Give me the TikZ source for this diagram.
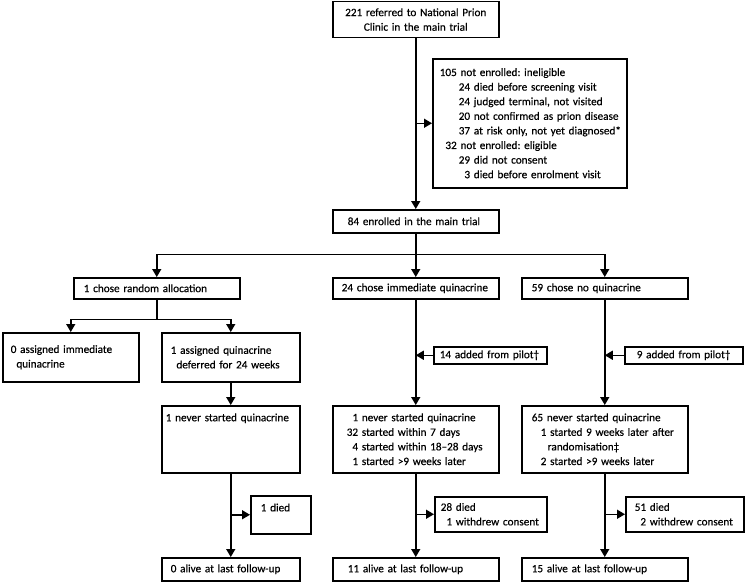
\documentclass[tikz,border=0pt]{standalone}
\usepackage{fontspec}
\setmainfont{Carlito}[FakeBold=0.4]
\usetikzlibrary{arrows.meta}
\frenchspacing
\hyphenpenalty=10000
\newcommand{\indt}{\hspace*{19pt}}

\begin{document}
\begin{tikzpicture} [x = 1pt, y = -1pt,
  box/.style = {draw, line width = 1.5pt, anchor = north west, align = left, inner ysep = 0pt, font = \fontsize{11.2}{14.6}\selectfont},
  arr/.style = {line width = 1.5pt, -{Triangle[length = 8pt, width = 9pt]}}]
\useasboundingbox (0,0) rectangle (746,581);
\node[box, align = center, text width = 150pt, inner xsep = 8pt, minimum height = 36pt] (r0) at (332,0.8) {221 referred to National Prion\\Clinic in the main trial};
\node[box, text width = 180pt, inner xsep = 7pt, minimum height = 129pt] (x0) at (432,58) {105 not enrolled: ineligible\\
\indt24 died before screening visit\\
\indt24 judged terminal, not visited\\
\indt20 not confirmed as prion disease\\
\indt\mbox{37 at risk only, not yet diagnosed*}\\
\hphantom{0}32 not enrolled: eligible\\
\indt29 did not consent\\
\indt\hphantom{0}3 died before enrolment visit};
\node[box, text width = 136pt, inner xsep = 15pt, minimum height = 23pt] (e0) at (332,209) {84 enrolled in the main trial};
\node[box, text width = 146pt, inner xsep = 10pt, minimum height = 21pt] (c1) at (73,277) {1 chose random allocation};
\node[box, text width = 148pt, inner xsep = 9pt, minimum height = 21pt] (c2) at (332,277) {24 chose immediate quinacrine};
\node[box, text width = 146pt, inner xsep = 10pt, minimum height = 21pt] (c3) at (521,277) {59 chose no quinacrine};
\node[box, text width = 120pt, inner xsep = 8pt, minimum height = 49pt] (a1) at (2,332) {0 assigned immediate\\\hphantom{0}quinacrine};
\node[box, text width = 120pt, inner xsep = 9pt, minimum height = 49pt] (a2) at (161,332) {1 assigned quinacrine\\\hphantom{0}deferred for 24 weeks};
\node[box, text width = 101pt, inner xsep = 6pt, minimum height = 17pt] (p1) at (433,346) {14 added from pilot\textdagger};
\node[box, text width = 94pt, inner xsep = 12pt, minimum height = 17pt] (p2) at (624,346) {9 added from pilot\textdagger};
\node[box, text width = 130pt, inner xsep = 4pt, minimum height = 67pt] (n1) at (161,405) {1 never started quinacrine\\\mbox{}\\\mbox{}\\\mbox{}};
\node[box, text width = 138pt, inner xsep = 14pt, minimum height = 67pt] (n2) at (332,405) {\hphantom{0}1 never started quinacrine\\
32 started within 7 days\\
\hphantom{0}4 started within 18--28 days\\
\hphantom{0}1 started >9 weeks later};
\node[box, text width = 146pt, inner xsep = 10pt, minimum height = 67pt] (n3) at (521,405) {65 never started quinacrine\\
\hspace*{9pt}1 started 9 weeks later after\\
\hspace*{16pt}randomisation\textdaggerdbl\\
\hspace*{9pt}2 started >9 weeks later};
\node[box, text width = 40pt, inner xsep = 10pt, minimum height = 38pt] (d1) at (250,495) {1 died\\\mbox{}};
\node[box, text width = 100pt, inner xsep = 6pt, minimum height = 35pt] (d2) at (434,496) {28 died\\\hphantom{0}1 withdrew consent};
\node[box, text width = 100pt, inner xsep = 9pt, minimum height = 35pt] (d3) at (625,496) {51 died\\\hphantom{0}2 withdrew consent};
\node[box, text width = 120pt, inner xsep = 9pt, minimum height = 23pt] (f1) at (161,557) {0 alive at last follow-up};
\node[box, text width = 136pt, inner xsep = 15pt, minimum height = 23pt] (f2) at (332,557) {11 alive at last follow-up};
\node[box, text width = 146pt, inner xsep = 10pt, minimum height = 23pt] (f3) at (521,557) {15 alive at last follow-up};
\draw[arr] (r0) -- (e0);
\draw[arr] (r0.south |- x0.west) -- (x0);
\draw[line width = 1.5pt] (e0.south) -- ++(0,21) coordinate (s0);
\draw[arr] (s0) -| (c1);
\draw[arr] (e0) -- (c2);
\draw[arr] (s0) -| (c3);
\draw[line width = 1.5pt] (c1.south) -- ++(0,20) coordinate (s1);
\draw[arr] (s1) -| (a1);
\draw[arr] (s1) -| (a2);
\draw[arr] (a2) -- (n1);
\draw[arr] (c2) -- (n2);
\draw[arr] (c3) -- (n3);
\draw[arr] (p1) -- (p1 -| c2.south);
\draw[arr] (p2) -- (p2 -| c3.south);
\draw[arr] (n1) -- (f1);
\draw[arr] (n2) -- (f2);
\draw[arr] (n3) -- (f3);
\draw[arr] (n1.south |- d1.west) -- (d1);
\draw[arr] (n2.south |- d2.west) -- (d2);
\draw[arr] (n3.south |- d3.west) -- (d3);
\end{tikzpicture}
\end{document}
